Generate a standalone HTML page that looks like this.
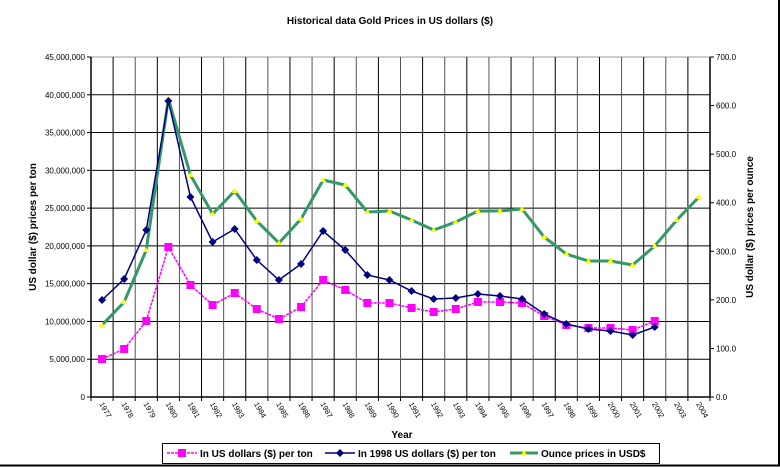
<!DOCTYPE html>
<html><head><meta charset="utf-8"><style>
body{margin:0;background:#fff}
svg{display:block;font-family:"Liberation Sans",Arial,sans-serif}
</style></head><body>
<svg width="780" height="467" viewBox="0 0 780 467" xmlns="http://www.w3.org/2000/svg">
<rect x="0" y="0" width="780" height="467" fill="#fff"/>
<line x1="779" y1="0" x2="779" y2="466" stroke="#000" stroke-width="2"/>
<line x1="0" y1="465.5" x2="780" y2="465.5" stroke="#000" stroke-width="2"/>
<text x="390" y="24" font-size="10" font-weight="bold" text-anchor="middle">Historical data Gold Prices in US dollars ($)</text>
<g id="grid"></g>
<g id="rest"></g>
<text x="402" y="438" font-size="10" font-weight="bold" text-anchor="middle">Year</text>
<text transform="translate(36,227) rotate(-90)" font-size="10" font-weight="bold" text-anchor="middle">US dollar ($) prices per ton</text>
<text transform="translate(753,227) rotate(-90)" font-size="10" font-weight="bold" text-anchor="middle">US dollar ($) prices per ounce</text>
<rect x="162.5" y="443.5" width="497" height="20" fill="#fff" stroke="#000"/>
<line x1="167" y1="453" x2="197" y2="453" stroke="#f0f" stroke-width="1.5" stroke-dasharray="3,1"/>
<rect x="178" y="449" width="8" height="8" fill="#f0f"/>
<text x="200" y="457" font-size="10" font-weight="bold">In US dollars ($) per ton</text>
<line x1="325" y1="453" x2="355" y2="453" stroke="#000080" stroke-width="1.5"/>
<path d="M340 449 L344 453 L340 457 L336 453Z" fill="#000080"/>
<text x="358" y="457" font-size="10" font-weight="bold">In 1998 US dollars ($) per ton</text>
<line x1="510" y1="453" x2="538" y2="453" stroke="#339966" stroke-width="3"/>
<path d="M524 450 L527 455 L521 455Z" fill="#ff0"/>
<text x="541" y="457" font-size="10" font-weight="bold">Ounce prices in USD$</text>
</svg>
<script>
(function(){
var NS="http://www.w3.org/2000/svg",g=document.getElementById('grid'),r=document.getElementById('rest');
function el(p,t,a,txt){var e=document.createElementNS(NS,t);for(var k in a)e.setAttribute(k,a[k]);if(txt!=null)e.textContent=txt;p.appendChild(e);return e;}
var L=91,R=710,T=57,B=397,n=28,w=(R-L)/n;
for(var i=0;i<=9;i++){var y=B-(B-T)*i/9;
el(g,'line',{x1:L,y1:y,x2:R,y2:y,stroke:i==9?'#999':'#000','stroke-width':1});
el(g,'line',{x1:L-4,y1:y,x2:L,y2:y,stroke:'#000'});
var v=(i*5000000).toLocaleString('en-US');
el(g,'text',{x:L-6,y:y+3,'font-size':8,'text-anchor':'end',fill:'#000'},v);}
for(var i=0;i<=7;i++){var y=B-(B-T)*i/7;
el(g,'line',{x1:R,y1:y,x2:R+4,y2:y,stroke:'#000'});
el(g,'text',{x:R+6,y:y+3,'font-size':8,fill:'#000'},(i*100).toFixed(1));}
for(var i=0;i<=n;i++){var x=L+w*i;
el(g,'line',{x1:x,y1:T,x2:x,y2:B,stroke:(i%2?'#000':'#555'),'stroke-width':1});
el(g,'line',{x1:x,y1:B,x2:x,y2:B+4,stroke:'#000'});}
el(g,'line',{x1:L,y1:B,x2:R,y2:B,stroke:'#000','stroke-width':1.5});
el(g,'line',{x1:L,y1:T,x2:L,y2:B,stroke:'#000','stroke-width':1.5});
el(g,'line',{x1:R,y1:T,x2:R,y2:B,stroke:'#000','stroke-width':1.5});
for(var i=0;i<n;i++){var x=L+w*i+w/2+1;
el(g,'text',{transform:'translate('+(x-4)+','+(B+7)+') rotate(60)','font-size':7.5,fill:'#000'},String(1977+i));}
var pink=[359,349,321,247,285,305,293,309,319,307,280,290,303,303,308,312,309,302,302,303,316,325,328,328,330,321];
var blue=[300,279,230,101,197,242,229,260,280,264,231,250,275,280,291,299,298,294,296,299,314,324,329,331,335,327];
var green=[325,302,250,99,175,214,191,221,243,219,180,185,212,211,220,230,222,211,211,209,237,254,261,261,265,246,220,197];
function pts(a){return a.map(function(y,i){return (L+w*i+w/2)+','+y}).join(' ');}
el(r,'polyline',{points:pts(pink),fill:'none',stroke:'#f0f','stroke-width':1.5,'stroke-dasharray':'3,1'});
pink.forEach(function(y,i){var x=L+w*i+w/2;el(r,'rect',{x:x-4,y:y-4,width:8,height:8,fill:'#f0f'});});
el(r,'polyline',{points:pts(green),fill:'none',stroke:'#339966','stroke-width':3});
green.forEach(function(y,i){var x=L+w*i+w/2;el(r,'path',{d:'M'+x+' '+(y-3)+' L'+(x+3)+' '+(y+2)+' L'+(x-3)+' '+(y+2)+'Z',fill:'#ff0'});});
el(r,'polyline',{points:pts(blue),fill:'none',stroke:'#000080','stroke-width':1.5});
blue.forEach(function(y,i){var x=L+w*i+w/2;el(r,'path',{d:'M'+x+' '+(y-4)+' L'+(x+4)+' '+y+' L'+x+' '+(y+4)+' L'+(x-4)+' '+y+'Z',fill:'#000080'});});
})();
</script>
</body></html>
